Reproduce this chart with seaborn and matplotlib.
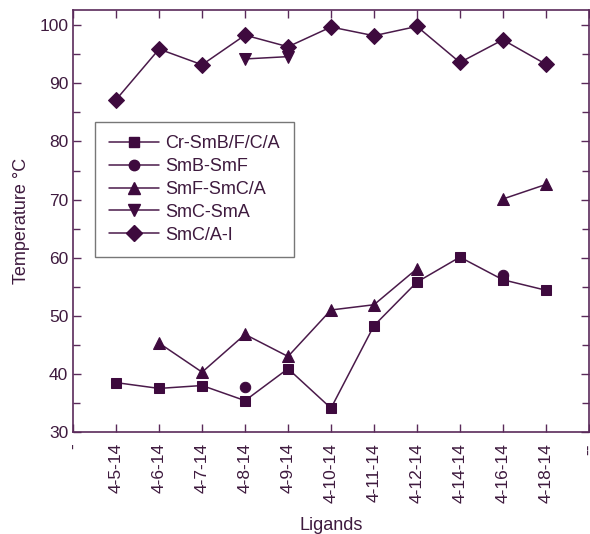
import numpy as np
import pandas as pd
import matplotlib
matplotlib.use("Agg")
import matplotlib.pyplot as plt
from matplotlib.lines import Line2D
from matplotlib.ticker import MultipleLocator
import seaborn as sns

categories = ["4-5-14", "4-6-14", "4-7-14", "4-8-14", "4-9-14", "4-10-14",
              "4-11-14", "4-12-14", "4-14-14", "4-16-14", "4-18-14"]
edge_labels = ["-", "--"]
nan = np.nan
cr_smb = [38.5, 37.5, 38.0, 35.4, 40.9, 34.1, 48.3, 55.8, 60.1, 56.2, 54.4]
smb_smf = [nan, nan, nan, 37.8, nan, nan, nan, nan, nan, 57.1, nan]
smf_smc = [nan, 45.3, 40.3, 46.8, 43.0, 51.0, 51.9, 58.1, nan, 70.1, 72.6]
smc_sma = [nan, nan, nan, 94.2, 94.6, nan, nan, nan, nan, nan, nan]
smc_i = [87.2, 95.9, 93.2, 98.3, 96.3, 99.7, 98.2, 99.8, 93.6, 97.5, 93.3]

series_names = ["Cr-SmB/F/C/A", "SmB-SmF", "SmF-SmC/A", "SmC-SmA", "SmC/A-I"]
series_vals = [cr_smb, smb_smf, smf_smc, smc_sma, smc_i]
markers = ["s", "o", "^", "v", "D"]
msizes = [7.5, 7.5, 9, 9, 8]

sns.set_style("ticks")
plt.rcParams["font.family"] = ["Liberation Sans", "DejaVu Sans"]

mark_c = "#3e0a3e"
line_c = "#4a1a4a"
text_c = "#3e1a3e"
spine_c = "#5a2a5a"

fig = plt.figure(figsize=(5.9, 5.34), dpi=100)
ax = fig.add_axes([0.124, 0.191, 0.874, 0.790])

xpos = np.arange(1, len(categories) + 1)
rows = []
for name, vals in zip(series_names, series_vals):
    seg = 0
    prev = False
    for x, v in zip(xpos, vals):
        if np.isnan(v):
            if prev:
                seg += 1
            prev = False
            continue
        rows.append(dict(series=name, x=x, y=v, seg=f"{name}_{seg}"))
        prev = True
df = pd.DataFrame(rows)

for name, mk, ms in zip(series_names, markers, msizes):
    sub = df[df.series == name]
    for sg, g in sub.groupby("seg"):
        sns.lineplot(data=g, x="x", y="y", ax=ax, color=line_c, lw=1.1,
                     marker=mk, markersize=ms, markerfacecolor=mark_c,
                     markeredgecolor=mark_c, estimator=None, legend=False)

ax.set_xlim(0, 12)
ax.set_ylim(30, 102.6)
ax.set_xticks(np.arange(0, 13))
ax.set_xticklabels([edge_labels[0]] + categories + [edge_labels[1]],
                   rotation=90, fontsize=12.5, color=text_c)
ax.yaxis.set_major_locator(MultipleLocator(10))
ax.yaxis.set_minor_locator(MultipleLocator(5))
for lab in ax.get_yticklabels():
    lab.set_fontsize(12.5)
    lab.set_color(text_c)
ax.tick_params(axis="both", which="both", direction="in", top=True, right=True,
               color=spine_c, width=1.0)
ax.tick_params(axis="both", which="major", length=6, labelsize=12.5, labelcolor=text_c)
ax.tick_params(axis="y", which="minor", length=5)
ax.tick_params(axis="x", which="major", pad=8)
for sp in ax.spines.values():
    sp.set_visible(True)
    sp.set_color(spine_c)
    sp.set_linewidth(1.2)

ax.set_xlabel("Ligands", fontsize=13, color=text_c, labelpad=10)
ax.set_ylabel("Temperature °C", fontsize=13, color=text_c, labelpad=7)

handles = [Line2D([0], [0], color=line_c, lw=1.1, marker=mk, markersize=ms,
                  markerfacecolor=mark_c, markeredgecolor=mark_c)
           for mk, ms in zip(markers, msizes)]
leg = ax.legend(handles, series_names, loc="upper left",
                bbox_to_anchor=(0.0426, 0.735), fontsize=13, frameon=True,
                fancybox=False, handlelength=2.8, handletextpad=0.35,
                labelspacing=0.32, borderpad=0.75, borderaxespad=0)
leg.get_frame().set_edgecolor("#555555")
leg.get_frame().set_linewidth(1.0)
for t in leg.get_texts():
    t.set_color(text_c)

fig.savefig("out.png", dpi=100)
